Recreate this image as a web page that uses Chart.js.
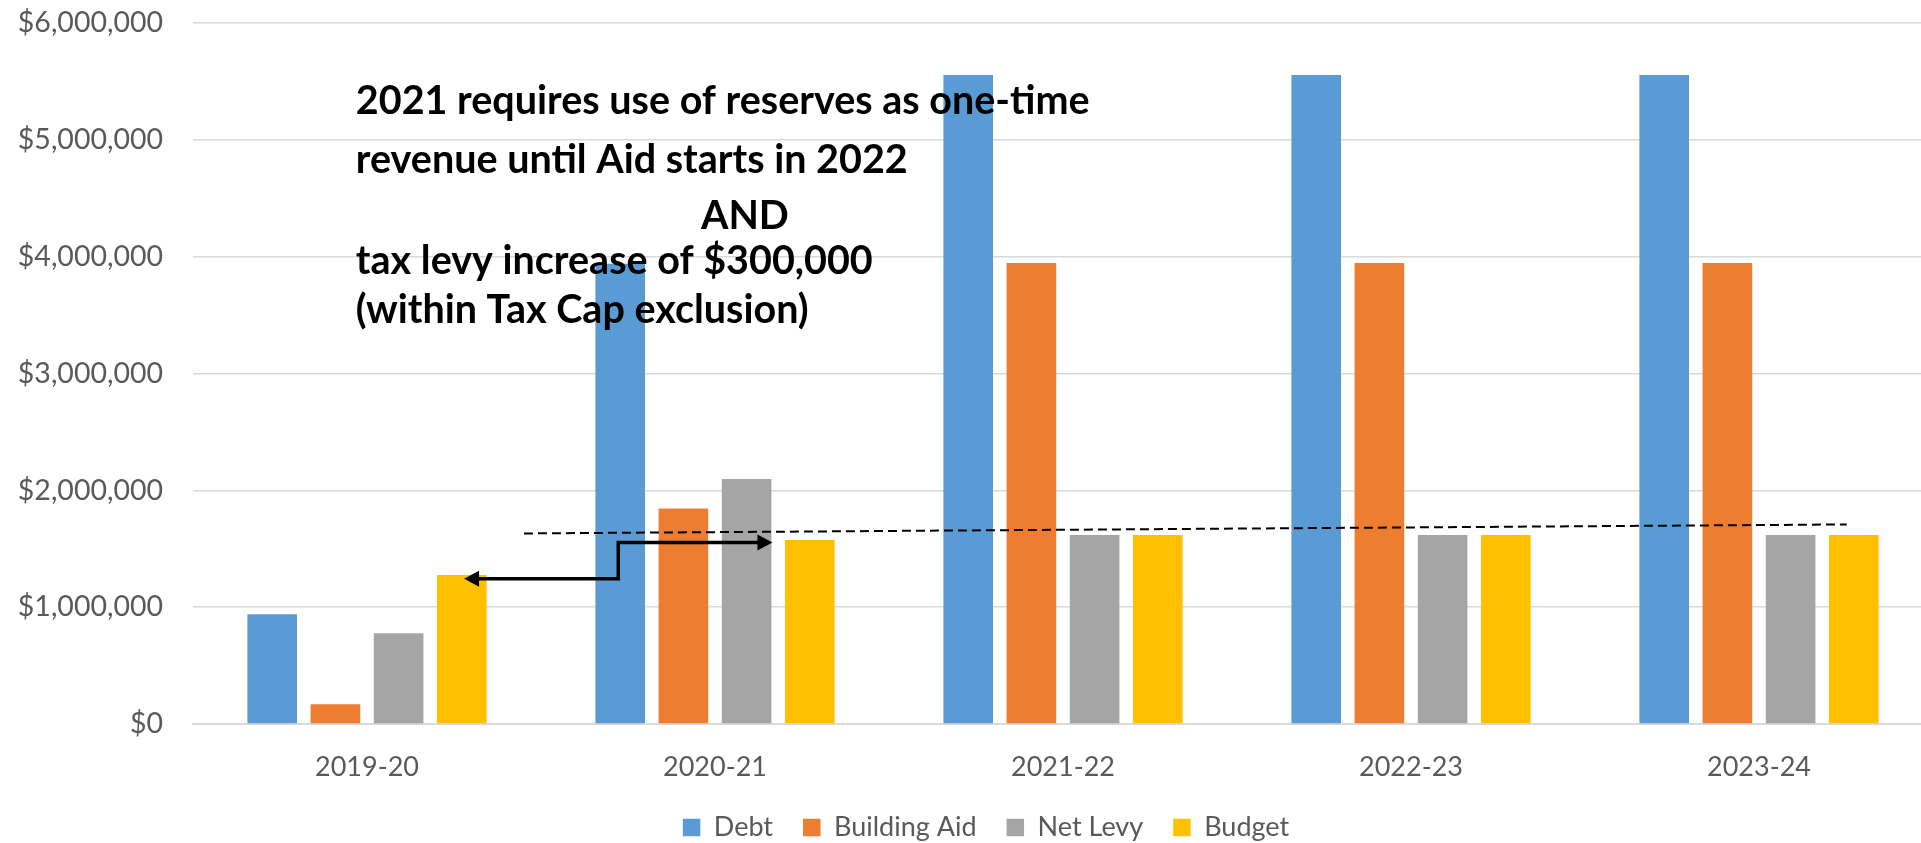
<!DOCTYPE html>
<html>
<head>
<meta charset="utf-8">
<script src="https://cdn.jsdelivr.net/npm/chart.js@4.4.1/dist/chart.umd.min.js"></script>
<style>
  html, body { margin: 0; padding: 0; overflow: hidden; background: #ffffff; width: 1921px; height: 843px; }
  #wrap { position: absolute; left: 0; top: 0; }
  canvas { display: block; }
</style>
</head>
<body>
<div id="wrap"><canvas id="chart" width="1933" height="851"></canvas></div>
<script>
// ---- data ----
const categories = ['2019-20', '2020-21', '2021-22', '2022-23', '2023-24'];
const seriesNames = ['Debt', 'Building Aid', 'Net Levy', 'Budget'];
const debt        = [940000, 3940000, 5555000, 5555000, 5555000];
const buildingAid = [170000, 1845000, 3945000, 3945000, 3945000];
const netLevy     = [776000, 2096000, 1617000, 1617000, 1617000];
const budget      = [1275000, 1574000, 1617000, 1617000, 1617000];
const yTickValues = [0, 1000000, 2000000, 3000000, 4000000, 5000000, 6000000];
const yTickLabels = ['$0', '$1,000,000', '$2,000,000', '$3,000,000', '$4,000,000', '$5,000,000', '$6,000,000'];

// annotation texts
const noteLines = [
  '2021 requires use of reserves as one-time',
  'revenue until Aid starts in 2022',
  'AND',
  'tax levy increase of $300,000',
  '(within Tax Cap exclusion)'
];

// annotation geometry in data units (category index, dollar value)
const trendLine = { x: [0.451, 4.252], y: [1631000, 1708000] };
const arrowPath = { x: [0.279, 0.722, 0.722, 1.165], y: [1243000, 1243000, 1554000, 1554000] };
const noteLayout = {
  left: -0.032,
  centerX: 1.086,
  align: ['left', 'left', 'center', 'left', 'left'],
  baseline: [5224000, 4713000, 4234000, 3850000, 3432000],
  fitWidthPx: 734
};

const COLORS = ['#5B9BD5', '#ED7D31', '#A5A5A5', '#FFC000'];
const FONT = 'Lato';

const annotationPlugin = {
  id: 'annotations',
  afterDatasetsDraw(chart) {
    const { ctx, scales: { x, y } } = chart;
    const x0 = x.getPixelForValue(0), x1 = x.getPixelForValue(1);
    const px = v => x0 + v * (x1 - x0);
    const py = v => y.getPixelForValue(v);
    ctx.save();

    // dashed trend line
    ctx.strokeStyle = '#000';
    ctx.lineWidth = 2;
    ctx.setLineDash([9, 5]);
    ctx.beginPath();
    ctx.moveTo(px(trendLine.x[0]), py(trendLine.y[0]));
    ctx.lineTo(px(trendLine.x[1]), py(trendLine.y[1]));
    ctx.stroke();
    ctx.setLineDash([]);

    // elbow arrow with heads at both ends
    const pts = arrowPath.x.map((v, i) => [px(v), py(arrowPath.y[i])]);
    const head = 15, half = 8;
    ctx.lineWidth = 3.5;
    ctx.lineJoin = 'miter';
    ctx.beginPath();
    ctx.moveTo(pts[0][0] + head - 1, pts[0][1]);
    for (let i = 1; i < pts.length - 1; i++) ctx.lineTo(pts[i][0], pts[i][1]);
    const last = pts[pts.length - 1];
    ctx.lineTo(last[0] - head + 1, last[1]);
    ctx.stroke();
    ctx.fillStyle = '#000';
    ctx.beginPath();
    ctx.moveTo(pts[0][0], pts[0][1]);
    ctx.lineTo(pts[0][0] + head, pts[0][1] - half);
    ctx.lineTo(pts[0][0] + head, pts[0][1] + half);
    ctx.closePath();
    ctx.fill();
    ctx.beginPath();
    ctx.moveTo(last[0], last[1]);
    ctx.lineTo(last[0] - head, last[1] - half);
    ctx.lineTo(last[0] - head, last[1] + half);
    ctx.closePath();
    ctx.fill();

    // note text
    ctx.font = 'bold 100px ' + FONT;
    const w = ctx.measureText(noteLines[0]).width;
    const size = 100 * noteLayout.fitWidthPx / w;
    ctx.font = 'bold ' + size.toFixed(2) + 'px ' + FONT;
    ctx.textBaseline = 'alphabetic';
    ctx.fillStyle = '#000';
    noteLines.forEach((t, i) => {
      const al = noteLayout.align[i];
      ctx.textAlign = al;
      const tx = al === 'center' ? px(noteLayout.centerX) : px(noteLayout.left);
      ctx.fillText(t, tx, py(noteLayout.baseline[i]));
    });
    ctx.restore();
  }
};

function build() {
  const ctx = document.getElementById('chart').getContext('2d');
  new Chart(ctx, {
    type: 'bar',
    data: {
      labels: categories,
      datasets: [debt, buildingAid, netLevy, budget].map((d, i) => ({
        label: seriesNames[i],
        data: d,
        backgroundColor: COLORS[i],
        borderWidth: 0,
        barPercentage: 0.785,
        categoryPercentage: 0.7264
      }))
    },
    options: {
      responsive: false,
      animation: false,
      devicePixelRatio: 1,
      layout: { padding: { left: 39, right: 0, top: 23, bottom: 0 } },
      plugins: {
        legend: {
          position: 'bottom',
          labels: {
            boxWidth: 17.5,
            boxHeight: 17.5,
            padding: 30,
            color: '#595959',
            font: { family: FONT, size: 27 }
          }
        },
        tooltip: { enabled: false },
        title: { display: false }
      },
      scales: {
        x: {
          grid: { display: false, drawTicks: false },
          border: { display: true, color: '#d9d9d9', width: 2 },
          ticks: { color: '#595959', font: { family: FONT, size: 27 }, padding: 27, maxRotation: 0, autoSkip: false },
          afterFit(scale) { scale.height = 60; }
        },
        y: {
          min: 0,
          max: 6000000,
          afterBuildTicks(scale) { scale.ticks = yTickValues.map(v => ({ value: v })); },
          grid: { color: '#d9d9d9', lineWidth: 1.5, drawTicks: false },
          border: { display: false },
          ticks: {
            color: '#595959',
            font: { family: FONT, size: 28.5 },
            padding: 30,
            callback: (v) => yTickLabels[yTickValues.indexOf(v)]
          },
          afterFit(scale) {
            scale.width = 154;
            scale.paddingTop = 0;
            scale.paddingBottom = 0;
            scale._computeLabelArea = function () {
              return { top: 0, left: 0, bottom: this.chart.height, right: this.right };
            };
          }
        }
      }
    },
    plugins: [annotationPlugin]
  });
}

Promise.all([
  document.fonts.load('27px ' + FONT),
  document.fonts.load('bold 34px ' + FONT)
]).then(build, build);
</script>
</body>
</html>
